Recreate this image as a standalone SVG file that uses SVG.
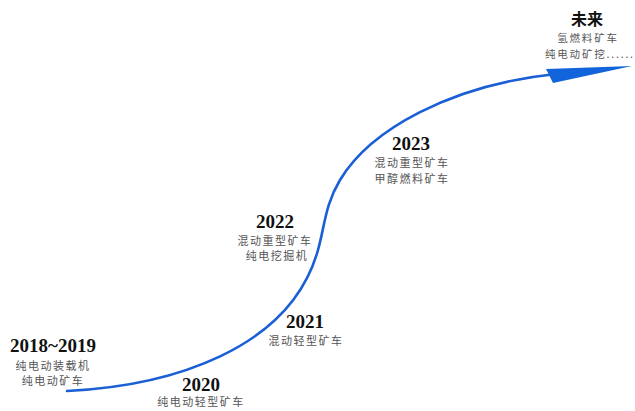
<svg xmlns="http://www.w3.org/2000/svg" width="635" height="411" viewBox="0 0 635 411">
<style>
.yr{font-family:"Liberation Serif","Times New Roman",serif;font-weight:bold;font-size:19px;fill:#111;text-anchor:middle}
.cn{font-family:"Noto Sans CJK SC","Noto Sans",sans-serif;font-size:11px;letter-spacing:1.5px;fill:#555;text-anchor:middle}
.fut{font-size:10.5px;letter-spacing:1.8px}
.line{fill:none;stroke:#1a5fd6;stroke-width:2.6;stroke-linecap:round}
</style>
<rect width="635" height="411" fill="#fff"/>
<g id="connectors">
<path class="line" d="M67,391 C170,386 290,350 318,250 C325,225 325,205 340,180 C370,130 450,85 556,74"/>
<polygon points="546,69 632,66 553,83" fill="#1164dc"/>
</g>
<g id="n2018"><text class="yr" x="53" y="352">2018~2019</text><text class="cn" x="53" y="370">纯电动装载机</text><text class="cn" x="53" y="385">纯电动矿车</text></g>
<g id="n2020"><text class="yr" x="201" y="391">2020</text><text class="cn" x="201" y="406">纯电动轻型矿车</text></g>
<g id="n2021"><text class="yr" x="305" y="328">2021</text><text class="cn" x="306" y="345">混动轻型矿车</text></g>
<g id="n2022"><text class="yr" x="275" y="228">2022</text><text class="cn" x="275" y="245">混动重型矿车</text><text class="cn" x="277" y="260">纯电挖掘机</text></g>
<g id="n2023"><text class="yr" x="411" y="150">2023</text><text class="cn" x="412" y="167">混动重型矿车</text><text class="cn" x="412" y="183">甲醇燃料矿车</text></g>
<g id="future"><text x="587" y="24.5" style="font-family:'Noto Sans CJK SC',sans-serif;font-weight:bold;font-size:16px;fill:#111;text-anchor:middle">未来</text><text class="cn fut" x="588" y="41.5">氢燃料矿车</text><text class="cn fut" x="545" y="57.5" style="text-anchor:start">纯电动矿挖......</text></g>
</svg>
